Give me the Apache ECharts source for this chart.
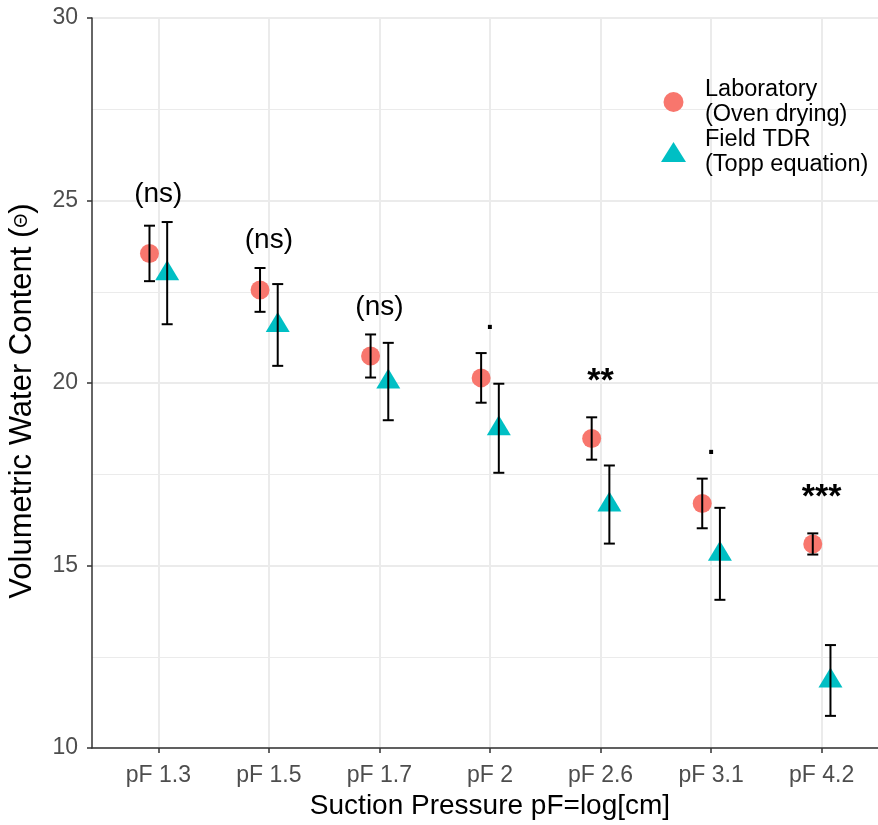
<!DOCTYPE html>
<html>
<head>
<meta charset="utf-8">
<script src="https://cdn.jsdelivr.net/npm/echarts@6/dist/echarts.min.js"></script>
<style>
  html, body { margin: 0; padding: 0; background: #fff; }
  #chart { width: 878px; height: 825px; }
</style>
</head>
<body>
<div id="chart"></div>
<script>
// data
var categories = ['pF 1.3', 'pF 1.5', 'pF 1.7', 'pF 2', 'pF 2.6', 'pF 3.1', 'pF 4.2'];
var labMean = [23.55, 22.55, 20.74, 20.14, 18.48, 16.70, 15.59];
var labErr = [0.76, 0.60, 0.59, 0.68, 0.58, 0.68, 0.29];
var tdrMean = [23.01, 21.59, 20.04, 18.76, 16.67, 15.32, 11.85];
var tdrErr = [1.40, 1.12, 1.06, 1.22, 1.07, 1.26, 0.97];
var sigLabels = ['(ns)', '(ns)', '(ns)', '.', '**', '.', '***'];
var sigY = [25.17, 23.90, 22.08, 21.70, 20.03, 18.27, 16.86];
var labName = 'Laboratory\n(Oven drying)';
var tdrName = 'Field TDR\n(Topp equation)';

var FONT = '"Liberation Sans", Arial, sans-serif';
var dodge = 0.08;
var catPos = categories.map(function (c, i) { return i + 1; });

function points(means, shift) {
  return means.map(function (m, i) { return [i + 1 + shift, m]; });
}

// error bars drawn on top of the points
function errorBars(means, errs, shift) {
  return {
    type: 'custom',
    z: 5,
    silent: true,
    data: means.map(function (m, i) { return [i + 1 + shift, m - errs[i], m + errs[i]]; }),
    encode: { x: 0, y: [1, 2] },
    renderItem: function (params, api) {
      var x = api.value(0);
      var lo = api.coord([x, api.value(1)]);
      var hi = api.coord([x, api.value(2)]);
      var w = 5.5;
      var st = { stroke: '#000', lineWidth: 2 };
      return {
        type: 'group',
        children: [
          { type: 'line', shape: { x1: lo[0], y1: lo[1], x2: hi[0], y2: hi[1] }, style: st },
          { type: 'line', shape: { x1: lo[0] - w, y1: lo[1], x2: lo[0] + w, y2: lo[1] }, style: st },
          { type: 'line', shape: { x1: hi[0] - w, y1: hi[1], x2: hi[0] + w, y2: hi[1] }, style: st }
        ]
      };
    }
  };
}

var chart = echarts.init(document.getElementById('chart'));
chart.setOption({
  animation: false,
  backgroundColor: '#fff',
  textStyle: { fontFamily: FONT },
  grid: { left: 92, right: 0, top: 18, bottom: 77, containLabel: false, outerBoundsMode: 'none' },
  legend: {
    orient: 'vertical',
    left: 656,
    top: 72,
    itemGap: 0,
    itemWidth: 25,
    itemHeight: 20,
    data: [
      { name: labName, icon: 'circle' },
      { name: tdrName, icon: 'triangle' }
    ],
    textStyle: { fontSize: 23.5, lineHeight: 25, color: '#000', fontFamily: FONT, padding: [0, 0, 0, 14] }
  },
  xAxis: {
    type: 'value',
    min: 0.4,
    max: 7.51,
    name: 'Suction Pressure pF=log[cm]',
    nameLocation: 'middle',
    nameGap: 39,
    nameTextStyle: { fontSize: 28, color: '#000', fontFamily: FONT, padding: [0, 0, 0, 10] },
    axisLine: { show: true, onZero: false, lineStyle: { color: '#333', width: 1.5 } },
    axisTick: { show: true, length: 5, customValues: catPos, lineStyle: { color: '#333', width: 1.5 } },
    axisLabel: {
      customValues: catPos,
      margin: 16,
      fontSize: 23,
      color: '#4d4d4d',
      fontFamily: FONT,
      formatter: function (v) { return categories[Math.round(v) - 1]; }
    },
    splitLine: { show: true, lineStyle: { color: '#ebebeb', width: 2 } }
  },
  yAxis: {
    type: 'value',
    min: 10,
    max: 30,
    interval: 5,
    name: 'Volumetric Water Content ({t|Θ})',
    nameLocation: 'middle',
    nameGap: 54,
    nameRotate: 90,
    nameTextStyle: {
      fontSize: 31, color: '#000', fontFamily: FONT, padding: [0, 36, 0, 0],
      rich: { t: { fontSize: 18, fontFamily: FONT, color: '#000' } }
    },
    axisLine: { show: true, lineStyle: { color: '#333', width: 1.5 } },
    axisTick: { show: true, length: 5, lineStyle: { color: '#333', width: 1.5 } },
    axisLabel: { margin: 14, fontSize: 23, color: '#4d4d4d', fontFamily: FONT },
    splitLine: { show: true, lineStyle: { color: '#ebebeb', width: 2 } },
    minorTick: { show: false, splitNumber: 2 },
    minorSplitLine: { show: true, lineStyle: { color: '#ebebeb', width: 1 } }
  },
  series: [
    {
      name: labName,
      type: 'scatter',
      symbol: 'circle',
      symbolSize: 19,
      itemStyle: { color: '#F8766D', opacity: 1 },
      z: 2,
      data: points(labMean, -dodge)
    },
    {
      name: tdrName,
      type: 'scatter',
      symbol: 'triangle',
      symbolSize: [24, 20],
      symbolOffset: [0, -3],
      itemStyle: { color: '#00BFC4', opacity: 1 },
      z: 3,
      data: points(tdrMean, dodge)
    },
    errorBars(labMean, labErr, -dodge),
    errorBars(tdrMean, tdrErr, dodge),
    {
      type: 'custom',
      z: 6,
      silent: true,
      data: sigY.map(function (y, i) { return [i + 1, y]; }),
      renderItem: function (params, api) {
        var p = api.coord([api.value(0), api.value(1)]);
        var txt = sigLabels[params.dataIndex];
        var star = txt.indexOf('*') >= 0;
        return {
          type: 'text',
          x: p[0],
          y: p[1],
          style: {
            text: txt,
            fontSize: star ? 34 : 28,
            fontFamily: FONT,
            fontWeight: star || txt === '.' ? 'bold' : 'normal',
            fill: '#000',
            align: 'center',
            verticalAlign: 'middle'
          }
        };
      }
    }
  ]
});
</script>
</body>
</html>
